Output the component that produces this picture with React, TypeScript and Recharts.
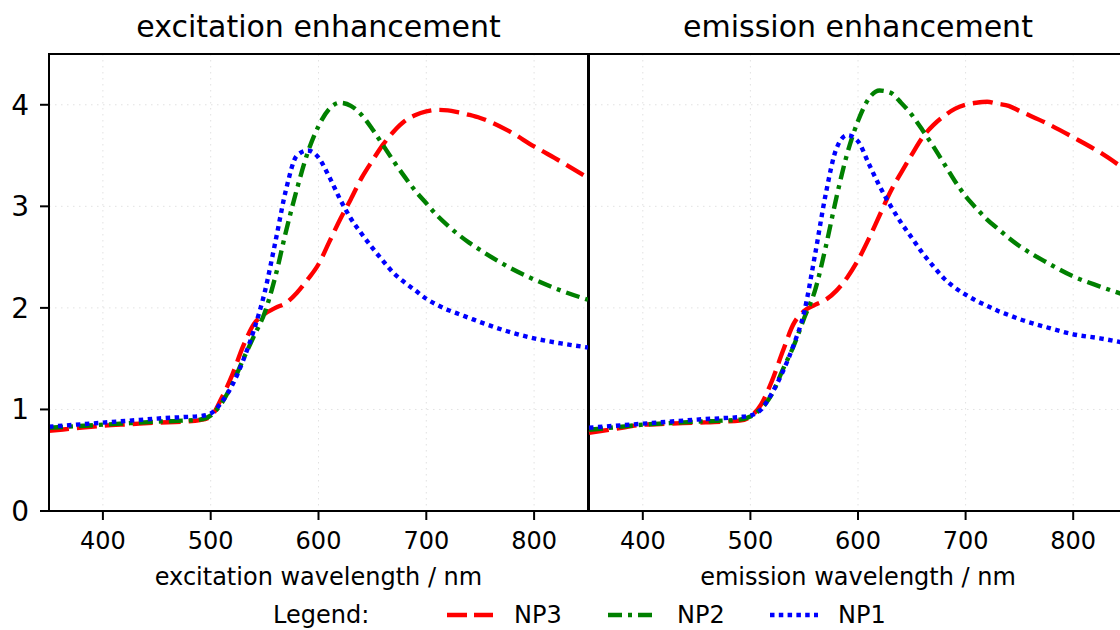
import React from "react";
import {
	LineChart,
	Line,
	XAxis,
	YAxis,
	CartesianGrid,
	ReferenceArea,
} from "recharts";

const wavelengths = [
	350, 375, 400, 425, 450, 475, 490, 500, 510, 520, 530, 540, 550, 560, 570,
	580, 590, 600, 610, 620, 630, 640, 650, 660, 670, 680, 690, 700, 710, 720,
	730, 740, 750, 775, 800, 825, 850,
];

// excitation enhancement
const exNP3 = [
	0.79, 0.815, 0.84, 0.855, 0.87, 0.88, 0.895, 0.93, 1.11, 1.34, 1.62, 1.84,
	1.94, 2.0, 2.05, 2.15, 2.28, 2.43, 2.65, 2.87, 3.07, 3.28, 3.45, 3.61, 3.74,
	3.84, 3.9, 3.935, 3.95, 3.945, 3.925, 3.9, 3.87, 3.75, 3.59, 3.44, 3.28,
];
const exNP2 = [
	0.82, 0.835, 0.85, 0.865, 0.88, 0.89, 0.9, 0.94, 1.06, 1.25, 1.49, 1.72,
	1.95, 2.31, 2.76, 3.17, 3.53, 3.79, 3.96, 4.02, 3.99, 3.9, 3.76, 3.6, 3.44,
	3.29, 3.15, 3.03, 2.91, 2.81, 2.72, 2.64, 2.57, 2.41, 2.28, 2.17, 2.08,
];
const exNP1 = [
	0.83, 0.85, 0.87, 0.89, 0.91, 0.925, 0.935, 0.96, 1.07, 1.24, 1.48, 1.78,
	2.15, 2.65, 3.17, 3.5, 3.55, 3.48, 3.29, 3.07, 2.88, 2.73, 2.59, 2.46, 2.34,
	2.25, 2.17, 2.09, 2.03, 1.98, 1.94, 1.9, 1.86, 1.77, 1.7, 1.65, 1.61,
];

// emission enhancement
const emNP3 = [
	0.77, 0.81, 0.85, 0.86, 0.87, 0.88, 0.89, 0.93, 1.05, 1.28, 1.57, 1.84,
	1.97, 2.03, 2.08, 2.17, 2.3, 2.47, 2.68, 2.91, 3.14, 3.33, 3.51, 3.68, 3.8,
	3.89, 3.96, 4.0, 4.02, 4.03, 4.01, 3.99, 3.94, 3.82, 3.68, 3.53, 3.35,
];
const emNP2 = [
	0.8, 0.825, 0.85, 0.865, 0.88, 0.89, 0.9, 0.93, 1.01, 1.15, 1.39, 1.62,
	1.9, 2.17, 2.6, 3.09, 3.52, 3.84, 4.06, 4.14, 4.12, 4.02, 3.9, 3.75, 3.59,
	3.42, 3.25, 3.1, 2.98, 2.87, 2.78, 2.69, 2.61, 2.45, 2.31, 2.21, 2.12,
];
const emNP1 = [
	0.82, 0.84, 0.86, 0.88, 0.9, 0.915, 0.925, 0.94, 1.0, 1.16, 1.37, 1.63,
	1.96, 2.52, 3.12, 3.57, 3.7, 3.64, 3.42, 3.2, 3.01, 2.84, 2.69, 2.54, 2.41,
	2.29, 2.2, 2.13, 2.07, 2.02, 1.97, 1.93, 1.89, 1.81, 1.74, 1.7, 1.65,
];

const xTicks = [400, 500, 600, 700, 800];
const yTicks = [0, 1, 2, 3, 4];

const font = "'DejaVu Sans', sans-serif";

const exData = wavelengths.map((wl, i) => ({
	wl,
	NP3: exNP3[i],
	NP2: exNP2[i],
	NP1: exNP1[i],
}));
const emData = wavelengths.map((wl, i) => ({
	wl,
	NP3: emNP3[i],
	NP2: emNP2[i],
	NP1: emNP1[i],
}));

const series = [
	{ key: "NP3", color: "#ff0000", dash: "20 8" },
	{ key: "NP2", color: "#008000", dash: "14 6 4 6" },
	{ key: "NP1", color: "#0000ff", dash: "4.5 4.5" },
];

const Panel = ({
	data,
	xLabel,
	showY,
}: {
	data: { wl: number; NP3: number; NP2: number; NP1: number }[];
	xLabel: string;
	showY: boolean;
}) => {
	return (
		<LineChart
			width={600}
			height={630}
			data={data}
			margin={{ top: 54, right: showY ? 12 : 13, bottom: 39, left: showY ? 0 : 49 }}
		>
			<CartesianGrid
				stroke="#e2e2e2"
				strokeDasharray="1.5 4.5"
				vertical
				horizontal
			/>
			<XAxis
				dataKey="wl"
				type="number"
				domain={[350, 850]}
				ticks={xTicks}
				height={80}
				tickSize={9}
				tickMargin={12}
				axisLine={{ stroke: "#000", strokeWidth: 2 }}
				tickLine={{ stroke: "#000", strokeWidth: 2 }}
				tick={{ fill: "#000", fontSize: 24, fontFamily: font }}
				label={{
					value: xLabel,
					position: "insideBottom",
					offset: 6,
					fill: "#000",
					fontSize: 24,
					fontFamily: font,
				}}
			/>
			<YAxis
				type="number"
				domain={[0, 4.5]}
				ticks={yTicks}
				width={showY ? 49 : 0}
				hide={!showY}
				tickSize={9}
				tickMargin={11}
				axisLine={{ stroke: "#000", strokeWidth: 2 }}
				tickLine={{ stroke: "#000", strokeWidth: 2 }}
				tick={{ fill: "#000", fontSize: 28, fontFamily: font }}
			/>
			{series.map((s) => (
				<Line
					key={s.key}
					dataKey={s.key}
					type="monotone"
					stroke={s.color}
					strokeWidth={4.4}
					strokeDasharray={s.dash}
					strokeLinecap="butt"
					dot={false}
					activeDot={false}
					isAnimationActive={false}
				/>
			))}
			<ReferenceArea
				x1={350}
				x2={850}
				y1={0}
				y2={4.5}
				fill="none"
				fillOpacity={0}
				stroke="#000"
				strokeWidth={2}
			/>
		</LineChart>
	);
};

const App = () => {
	return (
		<div
			style={{
				position: "absolute",
				left: 0,
				top: 0,
				width: 1120,
				height: 630,
				overflow: "hidden",
				background: "#fff",
			}}
		>
			<div style={{ position: "absolute", left: 0, top: 0 }}>
				<Panel data={exData} xLabel="excitation wavelength / nm" showY />
			</div>
			<div style={{ position: "absolute", left: 540, top: 0 }}>
				<Panel data={emData} xLabel="emission wavelength / nm" showY={false} />
			</div>
			<svg
				width={1120}
				height={630}
				style={{ position: "absolute", left: 0, top: 0, pointerEvents: "none" }}
				fontFamily={font}
			>
				<text x={318.5} y={37} fontSize={30} textAnchor="middle" fill="#000">
					excitation enhancement
				</text>
				<text x={858} y={37} fontSize={30} textAnchor="middle" fill="#000">
					emission enhancement
				</text>
				<text x={273} y={623} fontSize={24} fill="#000">
					Legend:
				</text>
				<line x1={447} x2={493} y1={615} y2={615} stroke="#ff0000" strokeWidth={4.4} strokeDasharray="20 7" />
				<text x={514} y={623} fontSize={24} fill="#000">
					NP3
				</text>
				<line x1={608} x2={654} y1={615} y2={615} stroke="#008000" strokeWidth={4.4} strokeDasharray="14 6 4 6" />
				<text x={677} y={623} fontSize={24} fill="#000">
					NP2
				</text>
				<line x1={770} x2={818} y1={615} y2={615} stroke="#0000ff" strokeWidth={4.4} strokeDasharray="4.5 4.3" />
				<text x={838} y={623} fontSize={24} fill="#000">
					NP1
				</text>
			</svg>
		</div>
	);
};

export default App;
